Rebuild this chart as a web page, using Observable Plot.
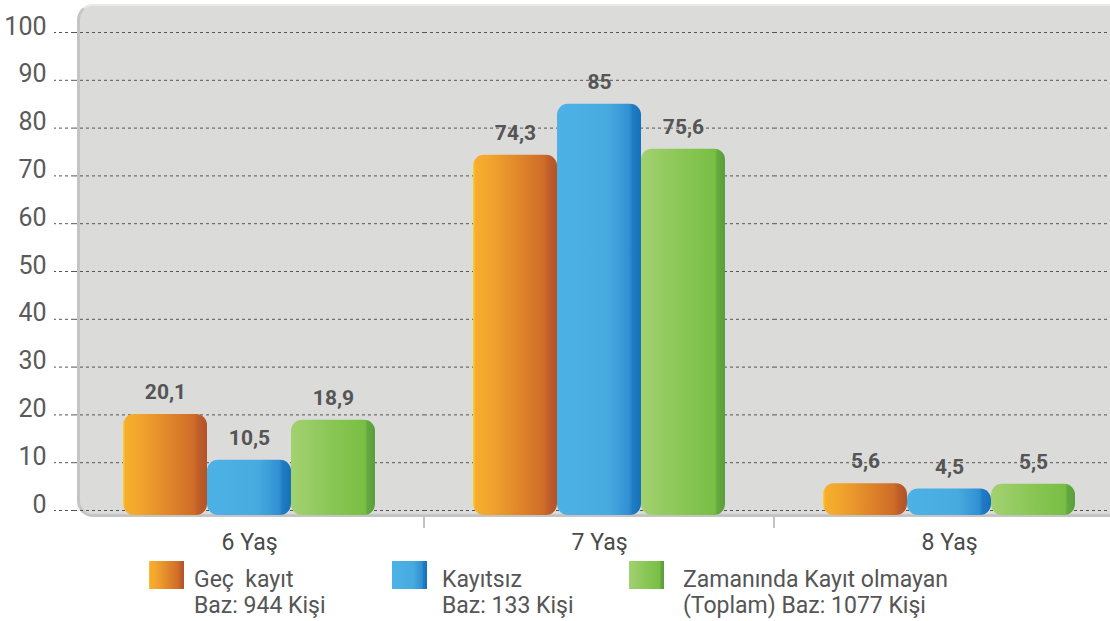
<!DOCTYPE html>
<html><head><meta charset="utf-8">
<script src="https://cdn.jsdelivr.net/npm/d3@7"></script>
<script src="https://cdn.jsdelivr.net/npm/@observablehq/plot@0.6"></script>
<style>
body{margin:0;background:#fff;}
#wrap{position:relative;width:1110px;height:621px;overflow:hidden;font-family:Roboto,"Liberation Sans",sans-serif;}
#panel{position:absolute;left:77px;top:4px;width:1060px;height:508px;background:#dbdbda;border-radius:16px 0 0 16px;border-left:3px solid #c4c4c4;border-bottom:3px solid #c4c4c4;border-top:2px solid #e8e8e8;}
#chart{position:absolute;left:0;top:0;}
.sw{position:absolute;top:561px;width:35px;height:28px;}
.lt{position:absolute;top:567px;font-size:23px;line-height:26px;color:#555;white-space:pre;}
</style></head>
<body>
<div id="wrap"><div id="panel"></div><div id="chart"></div><div id="legend"></div></div>
<script>
const ages = ["6 Yaş", "7 Yaş", "8 Yaş"];
const series = ["Geç kayıt", "Kayıtsız", "Zamanında Kayıt olmayan"];
const gecKayit = [20.1, 74.3, 5.6];
const kayitsiz = [10.5, 85, 4.5];
const zamaninda = [18.9, 75.6, 5.5];
const yTicks = [0, 10, 20, 30, 40, 50, 60, 70, 80, 90, 100];
const legendLine1 = ["Geç  kayıt", "Kayıtsız", "Zamanında Kayıt olmayan"];
const legendLine2 = ["Baz: 944 Kişi", "Baz: 133 Kişi", "(Toplam) Baz: 1077 Kişi"];

const seriesValues = [gecKayit, kayitsiz, zamaninda];
const rows = [];
series.forEach((s, i) => ages.forEach((a, j) => rows.push({age: a, series: s, value: seriesValues[i][j]})));

const gradIds = ["gOrange", "gBlue", "gGreen"];
const gradStops = [
  [[0, "#fdd02a"], [0.03, "#f6ae2e"], [0.2, "#f2a52d"], [0.85, "#cf6b28"], [0.89, "#c0602a"], [1, "#b25228"]],
  [[0, "#4cb2e6"], [0.6, "#48abe0"], [0.86, "#3190d2"], [0.9, "#1f7cc4"], [1, "#1670bb"]],
  [[0, "#a3d171"], [0.55, "#86c552"], [0.88, "#79bf44"], [0.91, "#63a83f"], [1, "#5a9e3b"]]
];

const bars = series.map((s, i) => Plot.barY(rows.filter(d => d.series === s), {
  fx: "age", x: "series", y: "value", fill: `url(#${gradIds[i]})`, rx: 11, insetBottom: -5
}));

const chart = Plot.plot({
  width: 1125, height: 560,
  marginTop: 32, marginBottom: 50, marginLeft: 73, marginRight: 0,
  style: {background: "transparent", overflow: "visible", maxWidth: "none"},
  fx: {domain: ages, padding: 0},
  x: {domain: series, paddingInner: 0, paddingOuter: 0.56, axis: null},
  y: {domain: [0, 100]},
  marks: [
    Plot.gridY(yTicks, {stroke: "#555", strokeOpacity: 1, strokeDasharray: "3,3"}),
    Plot.axisY(yTicks, {text: null, tickSize: 20, stroke: "#555", strokeDasharray: "3,3", label: null}),
    Plot.axisY(yTicks, {tickSize: 0, tickPadding: 28, fontSize: 25, fontWeight: 400, fontFamily: "Roboto, sans-serif", fill: "#5a5a5a", dy: -6, label: null}),
    Plot.axisFx({anchor: "bottom", tickSize: 0, tickPadding: 23, fontSize: 23, fontWeight: 400, fontFamily: "Roboto, sans-serif", fill: "#4a4a4a", label: null}),
    ...bars,
    Plot.text(rows, {fx: "age", x: "series", y: "value", text: d => String(d.value).replace(".", ","),
      dy: -22, fontSize: 21, fontWeight: "bold", fontFamily: "Roboto, sans-serif", fill: "#555", lineAnchor: "middle"})
  ]
});
chart.style.width = "1125px";
chart.style.height = "560px";

const defs = d3.select(chart).insert("defs", ":first-child");
gradIds.forEach((id, i) => {
  const g = defs.append("linearGradient").attr("id", id).attr("x1", 0).attr("x2", 1).attr("y1", 0).attr("y2", 0);
  gradStops[i].forEach(([o, c]) => g.append("stop").attr("offset", o).attr("stop-color", c));
});

// small separators between the age groups, placed with the fx scale
const fx = chart.scale("fx"), ys = chart.scale("y");
const y0 = ys.apply(0);
d3.select(chart).append("g").selectAll("line").data(ages.slice(1)).join("line")
  .attr("x1", d => fx.apply(d)).attr("x2", d => fx.apply(d))
  .attr("y1", y0 + 7).attr("y2", y0 + 18).attr("stroke", "#888").attr("stroke-width", 1);

document.getElementById("chart").appendChild(chart);

const swLeft = [149, 392, 629];
const txLeft = [194, 442, 683];
const legend = document.getElementById("legend");
series.forEach((s, i) => {
  const sw = document.createElement("div");
  sw.className = "sw";
  sw.style.left = swLeft[i] + "px";
  sw.style.background = `linear-gradient(to right, ${gradStops[i].map(([o, c]) => c + " " + (o * 100) + "%").join(",")})`;
  legend.appendChild(sw);
  const t = document.createElement("div");
  t.className = "lt";
  t.style.left = txLeft[i] + "px";
  t.textContent = legendLine1[i] + "\n" + legendLine2[i];
  legend.appendChild(t);
});
</script>
</body></html>
